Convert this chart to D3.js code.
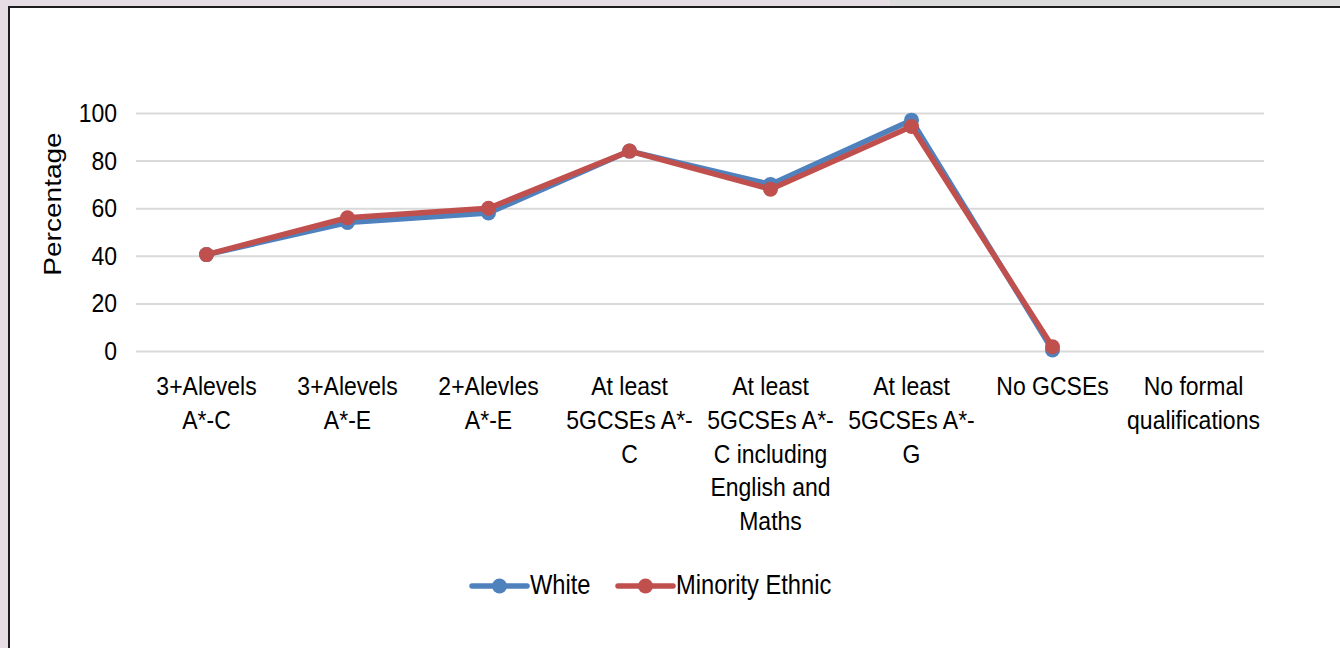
<!DOCTYPE html>
<html><head><meta charset="utf-8">
<script src="https://cdn.jsdelivr.net/npm/d3@7"></script>
<style>
body{margin:0;background:#fff;}
text{font-family:"Liberation Sans",Arial,sans-serif;fill:#000;}
</style></head>
<body><svg id="c" width="1340" height="648"></svg>
<script>
const categories = [
  "3+Alevels A*-C",
  "3+Alevels A*-E",
  "2+Alevles A*-E",
  "At least 5GCSEs A*-C",
  "At least 5GCSEs A*-C including English and Maths",
  "At least 5GCSEs A*-G",
  "No GCSEs",
  "No formal qualifications"
];
const categoryLines = [
  ["3+Alevels","A*-C"],
  ["3+Alevels","A*-E"],
  ["2+Alevles","A*-E"],
  ["At least","5GCSEs A*-","C"],
  ["At least","5GCSEs A*-","C including","English and","Maths"],
  ["At least","5GCSEs A*-","G"],
  ["No GCSEs"],
  ["No formal","qualifications"]
];
const whiteValues    = [40.5, 54, 58, 84, 70, 97, 0.4, null];
const minorityValues = [40.5, 56, 60, 84, 68, 94.3, 1.8, null];
const yTicks = [0, 20, 40, 60, 80, 100];
const seriesNames = ["White", "Minority Ethnic"];
const seriesColors = ["#4F81BD", "#C0504D"];
const yTitle = "Percentage";

const FS = 23, SY = 1.15;
const svg = d3.select("#c");

// frame
svg.append("rect").attr("x",0).attr("y",0).attr("width",1340).attr("height",648).attr("fill","#e7dde5");
svg.append("rect").attr("x",890).attr("y",0).attr("width",450).attr("height",7).attr("fill","#dcdcdc");
svg.append("rect").attr("x",8).attr("y",6).attr("width",1332).attr("height",642).attr("fill","#1e1e1e");
svg.append("rect").attr("x",10).attr("y",8).attr("width",1330).attr("height",640).attr("fill","#ffffff");

const x = d3.scaleBand().domain(categories).range([136, 1264]);
const y = d3.scaleLinear().domain([0, 100]).range([351, 113]);

// y axis + gridlines
const ya = svg.append("g").attr("transform","translate(136,0)")
  .call(d3.axisLeft(y).tickValues(yTicks).tickSize(-1128).tickPadding(19));
ya.select(".domain").remove();
ya.selectAll(".tick line").attr("stroke","#d9d9d9").attr("stroke-width",2);
ya.selectAll(".tick text").attr("font-size",FS).attr("fill","#000")
  .attr("font-family","'Liberation Sans',Arial,sans-serif")
  .attr("transform",`scale(1,${SY})`);

// y title
svg.append("text").attr("transform",`translate(61,204) rotate(-90) scale(1.22,1.05)`)
  .attr("text-anchor","middle").attr("font-size",FS).text(yTitle);

// x labels
const xl = svg.append("g");
categories.forEach((c,i)=>{
  const cx = x(c) + x.bandwidth()/2;
  categoryLines[i].forEach((ln,j)=>{
    xl.append("text").attr("transform",`translate(${cx},${395 + j*33.8}) scale(1,${SY})`)
      .attr("text-anchor","middle").attr("font-size",FS).text(ln);
  });
});

// lines
const allSeries = [whiteValues, minorityValues];
const line = d3.line().defined(d=>d.v!=null).x(d=>x(d.c)+x.bandwidth()/2).y(d=>y(d.v));
allSeries.forEach((vals,k)=>{
  const data = categories.map((c,i)=>({c, v: vals[i]}));
  const g = svg.append("g");
  g.append("path").datum(data).attr("d",line).attr("fill","none")
    .attr("stroke",seriesColors[k]).attr("stroke-width",5.5).attr("stroke-linejoin","round").attr("stroke-linecap","round");
  g.selectAll("circle").data(data.filter(d=>d.v!=null)).join("circle")
    .attr("cx",d=>x(d.c)+x.bandwidth()/2).attr("cy",d=>y(d.v)).attr("r",7.5).attr("fill",seriesColors[k]);
});

// legend
const legendX = [472, 618];
seriesNames.forEach((n,k)=>{
  const lx = legendX[k], ly = 586;
  svg.append("line").attr("x1",lx).attr("x2",lx+55).attr("y1",ly).attr("y2",ly)
    .attr("stroke",seriesColors[k]).attr("stroke-width",5.5).attr("stroke-linecap","round");
  svg.append("circle").attr("cx",lx+27.5).attr("cy",ly).attr("r",7.5).attr("fill",seriesColors[k]);
  svg.append("text").attr("transform",`translate(${lx+58},${ly+8}) scale(1,${SY})`)
    .attr("font-size",23.7).text(n);
});
</script></body></html>
